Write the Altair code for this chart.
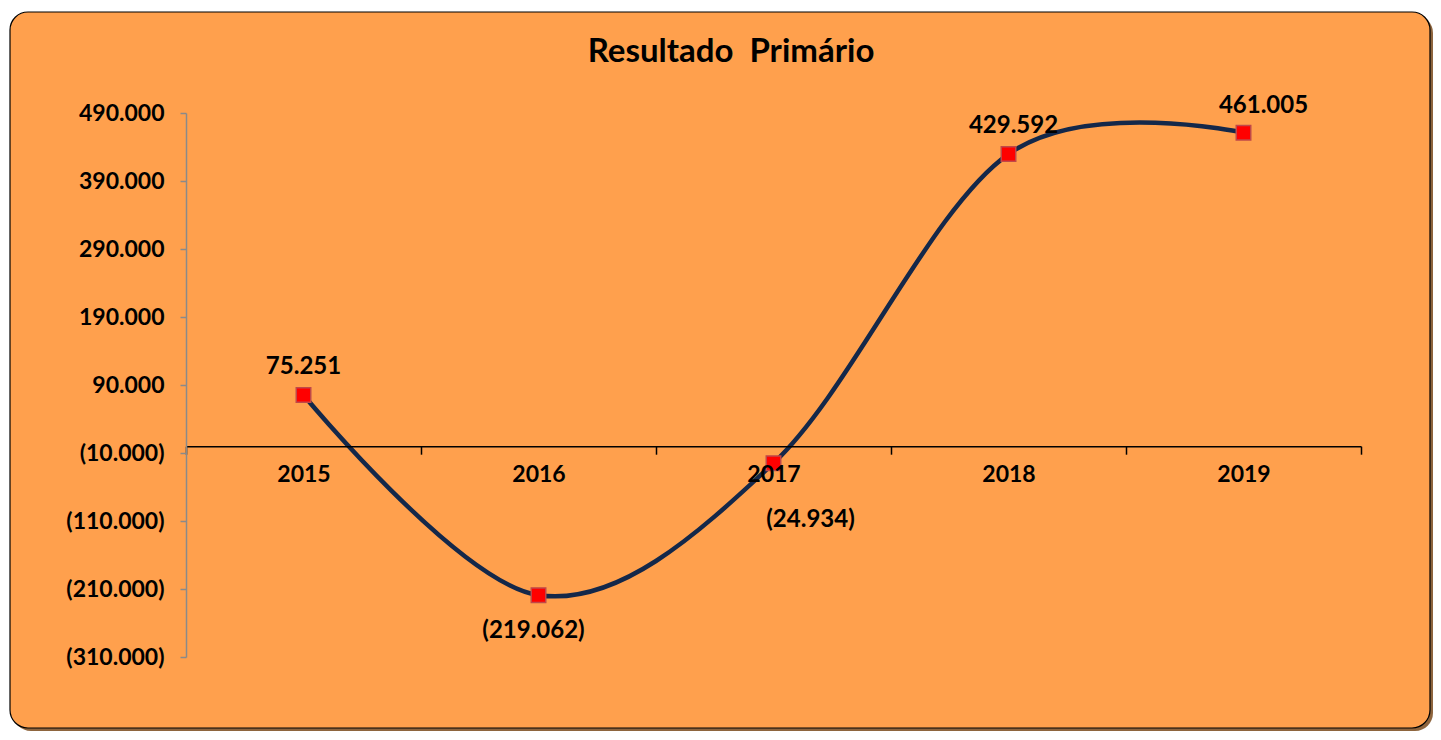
import altair as alt
import pandas as pd

# ---- data ----
years = ["2015", "2016", "2017", "2018", "2019"]
values = [75251, -219062, -24934, 429592, 461005]
y_ticks = [-310000, -210000, -110000, -10000, 90000, 190000, 290000, 390000, 490000]
title_text = "Resultado\u00a0 Primário"

df = pd.DataFrame({"year": years, "value": values})

# ---- styling ----
BG = "#FFA04D"
LINE = "#14284A"
FONT = "Lato"
FS = 23
W, H = 1175, 544
Y_MIN, Y_MAX = -310000, 490000
zero_offset = -H * (0 - Y_MIN) / (Y_MAX - Y_MIN)

fmt_expr = ("(datum.value < 0 ? '(' + replace(format(abs(datum.value), ',.0f'), ',', '.') + ')'"
            " : replace(format(datum.value, ',.0f'), ',', '.') + '\u00a0\u200a')")
lab_expr = ("datum.value < 0 ? '(' + replace(format(abs(datum.value), ',.0f'), ',', '.') + ')'"
            " : replace(format(datum.value, ',.0f'), ',', '.')")

x_enc = alt.X("year:N", bandPosition=0.5,
              scale=alt.Scale(type="band", paddingInner=0, paddingOuter=0),
              axis=alt.Axis(title=None, labelAngle=0, tickBand="extent", zindex=2,
                            offset=zero_offset, domainColor="#000000", domainWidth=1.5,
                            tickColor="#000000", tickWidth=1.5, tickSize=8,
                            labelFont=FONT, labelFontSize=FS, labelFontWeight="bold",
                            labelColor="#000000", labelPadding=9, grid=False))
y_enc = alt.Y("value:Q", scale=alt.Scale(domain=[Y_MIN, Y_MAX], nice=False, zero=False),
              axis=alt.Axis(title=None, values=y_ticks, labelExpr=fmt_expr, zindex=2,
                            domainColor="#8A8A8A", domainWidth=1.5,
                            tickColor="#8A8A8A", tickWidth=1.5, tickSize=6,
                            labelFont=FONT, labelFontSize=FS, labelFontWeight="bold",
                            labelColor="#000000", labelPadding=16, grid=False))

one = pd.DataFrame({"k": [0]})

shadow = alt.Chart(one).mark_rect(cornerRadius=18, fill="#7A4A1C", opacity=0.85).encode(
    x=alt.value(-173), x2=alt.value(1247), y=alt.value(-98), y2=alt.value(618))
box = alt.Chart(one).mark_rect(cornerRadius=18, fill=BG, stroke="#000000", strokeWidth=1.2).encode(
    x=alt.value(-176), x2=alt.value(1244), y=alt.value(-101), y2=alt.value(615))

title = alt.Chart(one).mark_text(font=FONT, fontSize=33, fontWeight="bold", color="#000000",
                                 align="center", baseline="alphabetic").encode(
    x=alt.value(545), y=alt.value(-51), text=alt.value(title_text))

base = alt.Chart(df).encode(x=x_enc, y=y_enc)

line = base.mark_line(interpolate="cardinal", color=LINE, strokeWidth=4.5)
points = base.mark_point(shape="square", size=210, filled=True, fill="#FF0000",
                         stroke="#C04848", strokeWidth=1.5, opacity=1)

label_offsets = {"2015": (0, -28), "2016": (-5, 36), "2017": (37, 57),
                 "2018": (5, -28), "2019": (20, -27)}
labels = []
for yr, (dx, dy) in label_offsets.items():
    labels.append(
        base.transform_filter(alt.datum.year == yr)
        .transform_calculate(lab=lab_expr)
        .mark_text(font=FONT, fontSize=24, fontWeight="bold", color="#000000",
                   dx=dx, dy=dy, align="center", baseline="middle")
        .encode(text="lab:N")
    )

chart = alt.layer(shadow, box, title, line, points, *labels).properties(
    width=W, height=H,
    autosize=alt.AutoSizeParams(type="none"),
    padding={"left": 178, "top": 105, "right": 72, "bottom": 75},
    background="#FFFFFF",
).configure_view(stroke=None)

chart.save("out.html", embed_options={"renderer": "svg", "actions": False})
